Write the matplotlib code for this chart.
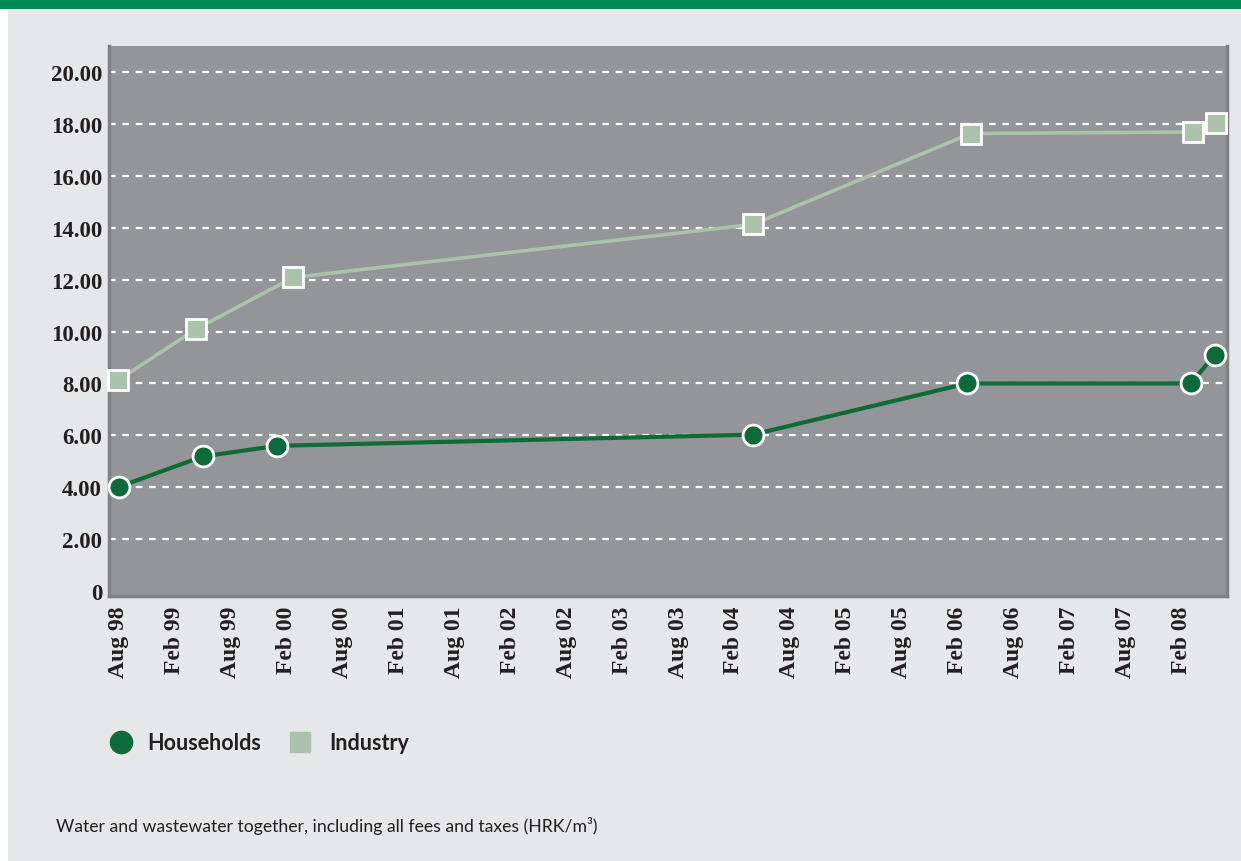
import numpy as np
import matplotlib.pyplot as plt
from matplotlib.patches import Rectangle
from matplotlib.lines import Line2D

# Tick labels every six months, starting Aug 1998
tick_labels = ['Aug 98', 'Feb 99', 'Aug 99', 'Feb 00', 'Aug 00', 'Feb 01', 'Aug 01',
               'Feb 02', 'Aug 02', 'Feb 03', 'Aug 03', 'Feb 04', 'Aug 04', 'Feb 05',
               'Aug 05', 'Feb 06', 'Aug 06', 'Feb 07', 'Aug 07', 'Feb 08']

# Price changes, x in months since Aug 1998, prices in HRK/m3
households_months = [0, 9, 17, 68, 91, 115, 117.6]
households_price = [4.02, 5.19, 5.60, 6.03, 8.00, 8.00, 9.10]

industry_months = [-0.1, 8.3, 18.7, 68, 91.4, 115.3, 117.7]
industry_price = [8.12, 10.09, 12.08, 14.12, 17.62, 17.68, 18.02]

panel_bg = '#e6e7e8'
plot_bg = '#939598'
band_green = '#008b55'
house_green = '#0d6b3a'
industry_green = '#acc2ad'

fig = plt.figure(figsize=(12.41, 8.62), dpi=100)
fig.patch.set_facecolor('white')
W, H = 1241, 862

# light grey panel with green band on top
fig.add_artist(Rectangle((8 / W, 0), 1 - 8 / W, 1 - 10 / H, transform=fig.transFigure,
                         facecolor=panel_bg, edgecolor='none', zorder=-5))
fig.add_artist(Rectangle((0, 1 - 10 / H), 1, 10 / H, transform=fig.transFigure,
                         facecolor=band_green, edgecolor='none', zorder=-5))

ax = fig.add_axes([109 / W, 1 - 597 / H, (1227 - 109) / W, (597 - 46.7) / H])
ax.set_facecolor(plot_bg)

ax.plot(industry_months, industry_price, color=industry_green, lw=2.6,
        marker='s', ms=14, mfc=industry_green, mec='white', mew=2, zorder=3,
        clip_on=False)
ax.plot(households_months, households_price, color=house_green, lw=3,
        marker='o', ms=15, mfc=house_green, mec='white', mew=2, zorder=4,
        clip_on=False)

ax.set_xlim(-1.05, 118.9)
ax.set_ylim(-0.18, 21.0)

ax.set_xticks(np.arange(len(tick_labels)) * 6)
ax.set_xticklabels(tick_labels, rotation=90, fontfamily='Liberation Serif',
                   fontweight='bold', fontsize=17)
yt = np.arange(0, 21, 2)
ax.set_yticks(yt)
ax.set_yticklabels(['0'] + [f'{v:.2f}' for v in yt[1:]], fontfamily='Liberation Serif',
                   fontweight='bold', fontsize=16.5)
ax.tick_params(axis='both', length=0, colors='#231f20')
ax.tick_params(axis='x', pad=7)
ax.tick_params(axis='y', pad=5)

for v in yt[1:]:
    ax.axhline(v, color='white', lw=1.6, ls=(0, (3, 3)), zorder=1)

for side in ['left', 'right', 'bottom']:
    ax.spines[side].set_color('#7e8083')
    ax.spines[side].set_linewidth(2.5)
ax.spines['top'].set_visible(False)

# legend drawn by hand below the plot
ly = 1 - 743 / H
fig.add_artist(Line2D([121 / W], [ly], marker='o', ms=16, color=house_green,
                      transform=fig.transFigure))
fig.text(147 / W, ly, 'Households', fontfamily='Lato', fontweight='bold', fontsize=15.5,
         color='#231f20', va='center', ha='left')
fig.add_artist(Line2D([300 / W], [ly], marker='s', ms=15, color=industry_green,
                      transform=fig.transFigure))
fig.text(329 / W, ly, 'Industry', fontfamily='Lato', fontweight='bold', fontsize=15.5,
         color='#231f20', va='center', ha='left')

fig.text(56 / W, 1 - 826 / H, 'Water and wastewater together, including all fees and taxes (HRK/m³)',
         fontfamily='Lato', fontsize=12.7, color='#231f20', va='center', ha='left')

fig.savefig('out.png', dpi=100, facecolor=fig.get_facecolor())
